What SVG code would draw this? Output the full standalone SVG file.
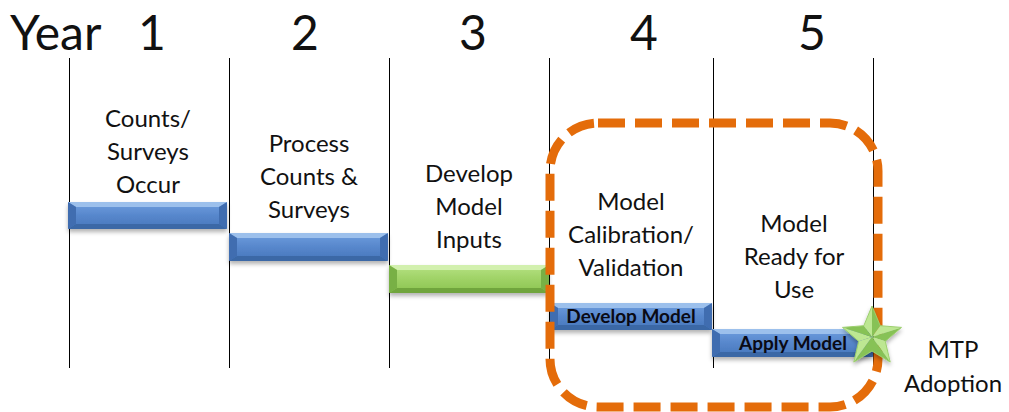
<svg xmlns="http://www.w3.org/2000/svg" width="1009" height="412" viewBox="0 0 1009 412">
  <style>
    .lbl { font-family: Lato, "Open Sans", "Liberation Sans", sans-serif; font-size: 24px; fill: #111; text-anchor: middle; }
    .yr { font-family: Lato, "Open Sans", "Liberation Sans", sans-serif; font-size: 48px; fill: #111; }
    .num { text-anchor: middle; }
    .bartxt { font-family: Lato, "Liberation Sans", sans-serif; font-size: 19px; font-weight: bold; fill: #0a0a14; text-anchor: middle; }
    .tick { stroke: #000; stroke-width: 1; }
    .b-face { fill: url(#blueFace); }
    .b-top { fill: #9cc0ec; }
    .b-bot { fill: #3a67a6; }
    .b-side { fill: #3f6db0; }
    .g-face { fill: url(#greenFace); }
    .g-top { fill: #d2f0ae; }
    .g-bot { fill: #6fa53c; }
    .g-side { fill: #78b044; }
    .frame { fill: none; stroke: #e46c0a; stroke-width: 9; stroke-dasharray: 27 10; }
    .s-lt { fill: #bde792; }
    .s-dk { fill: #87c257; }
  </style>
  <defs>
    <linearGradient id="blueFace" x1="0" y1="0" x2="0" y2="1">
      <stop offset="0" stop-color="#6f9edf"/>
      <stop offset="0.5" stop-color="#5787cc"/>
      <stop offset="1" stop-color="#4676bb"/>
    </linearGradient>
    <linearGradient id="greenFace" x1="0" y1="0" x2="0" y2="1">
      <stop offset="0" stop-color="#b6e283"/>
      <stop offset="0.5" stop-color="#9fd266"/>
      <stop offset="1" stop-color="#8bc450"/>
    </linearGradient>
    <filter id="shadow" x="-5%" y="-20%" width="110%" height="160%">
      <feDropShadow dx="0" dy="3" stdDeviation="2" flood-color="#000" flood-opacity="0.3"/>
    </filter>
  </defs>

  <!-- year header -->
  <g id="header">
    <text class="yr" x="10" y="50">Year</text>
    <text class="yr num" x="152" y="50">1</text>
    <text class="yr num" x="305" y="50">2</text>
    <text class="yr num" x="473" y="50">3</text>
    <text class="yr num" x="644" y="50">4</text>
    <text class="yr num" x="812" y="50">5</text>
  </g>

  <!-- year dividers -->
  <g id="dividers">
    <line class="tick" x1="69.5" y1="58" x2="69.5" y2="368"/>
    <line class="tick" x1="229.5" y1="58" x2="229.5" y2="368"/>
    <line class="tick" x1="389.5" y1="58" x2="389.5" y2="368"/>
    <line class="tick" x1="549.5" y1="58" x2="549.5" y2="368"/>
    <line class="tick" x1="713.5" y1="58" x2="713.5" y2="368"/>
    <line class="tick" x1="873.5" y1="58" x2="873.5" y2="368"/>
  </g>

  <!-- phase labels -->
  <g id="label-1">
    <text class="lbl" x="148" y="127">Counts/</text>
    <text class="lbl" x="148" y="160">Surveys</text>
    <text class="lbl" x="148" y="193">Occur</text>
  </g>
  <g id="label-2">
    <text class="lbl" x="309" y="152">Process</text>
    <text class="lbl" x="309" y="185">Counts &amp;</text>
    <text class="lbl" x="309" y="218">Surveys</text>
  </g>
  <g id="label-3">
    <text class="lbl" x="469" y="182">Develop</text>
    <text class="lbl" x="469" y="215">Model</text>
    <text class="lbl" x="469" y="248">Inputs</text>
  </g>
  <g id="label-4">
    <text class="lbl" x="631" y="210">Model</text>
    <text class="lbl" x="631" y="243">Calibration/</text>
    <text class="lbl" x="631" y="276">Validation</text>
  </g>
  <g id="label-5">
    <text class="lbl" x="794" y="232">Model</text>
    <text class="lbl" x="794" y="265">Ready for</text>
    <text class="lbl" x="794" y="298">Use</text>
  </g>
  <g id="label-mtp">
    <text class="lbl" x="953" y="358">MTP</text>
    <text class="lbl" x="953" y="392">Adoption</text>
  </g>

  <!-- bevelled timeline bars -->
  <g id="bar-1" filter="url(#shadow)">
    <rect class="b-face" x="68" y="202" width="159" height="27" rx="2"/>
    <polygon class="b-top" points="68,202 227,202 219,207 76,207"/>
    <polygon class="b-bot" points="68,229 227,229 219,224 76,224"/>
    <polygon class="b-side" points="68,202 76,207 76,224 68,229"/>
    <polygon class="b-side" points="227,202 219,207 219,224 227,229"/>
  </g>
  <g id="bar-2" filter="url(#shadow)">
    <rect class="b-face" x="229" y="233" width="159" height="28" rx="2"/>
    <polygon class="b-top" points="229,233 388,233 380,238 237,238"/>
    <polygon class="b-bot" points="229,261 388,261 380,256 237,256"/>
    <polygon class="b-side" points="229,233 237,238 237,256 229,261"/>
    <polygon class="b-side" points="388,233 380,238 380,256 388,261"/>
  </g>
  <g id="bar-3" filter="url(#shadow)">
    <rect class="g-face" x="389" y="265" width="160" height="28" rx="2"/>
    <polygon class="g-top" points="389,265 549,265 541,270 397,270"/>
    <polygon class="g-bot" points="389,293 549,293 541,288 397,288"/>
    <polygon class="g-side" points="389,265 397,270 397,288 389,293"/>
    <polygon class="g-side" points="549,265 541,270 541,288 549,293"/>
  </g>
  <g id="bar-4">
    <g filter="url(#shadow)">
      <rect class="b-face" x="550" y="303" width="162" height="27" rx="2"/>
      <polygon class="b-top" points="550,303 712,303 704,308 558,308"/>
      <polygon class="b-bot" points="550,330 712,330 704,325 558,325"/>
      <polygon class="b-side" points="550,303 558,308 558,325 550,330"/>
      <polygon class="b-side" points="712,303 704,308 704,325 712,330"/>
    </g>
    <text class="bartxt" x="631" y="323">Develop Model</text>
  </g>
  <g id="bar-5">
    <g filter="url(#shadow)">
      <rect class="b-face" x="712" y="329" width="161" height="28" rx="2"/>
      <polygon class="b-top" points="712,329 873,329 865,334 720,334"/>
      <polygon class="b-bot" points="712,357 873,357 865,352 720,352"/>
      <polygon class="b-side" points="712,329 720,334 720,352 712,357"/>
      <polygon class="b-side" points="873,329 865,334 865,352 873,357"/>
    </g>
    <text class="bartxt" x="793" y="350">Apply Model</text>
  </g>

  <!-- modelling phase frame -->
  <g id="model-frame">
    <rect class="frame" x="550" y="123" width="328" height="284" rx="48" ry="48"/>
  </g>

  <!-- adoption milestone star -->
  <g id="milestone-star" filter="url(#shadow)">
    <polygon class="s-lt" points="872,337 872,306 863.8,325.7"/>
    <polygon class="s-dk" points="872,337 872,306 880.2,325.7"/>
    <polygon class="s-lt" points="872,337 880.2,325.7 901.5,327.4"/>
    <polygon class="s-dk" points="872,337 901.5,327.4 885.3,341.3"/>
    <polygon class="s-lt" points="872,337 885.3,341.3 890.2,362.1"/>
    <polygon class="s-dk" points="872,337 890.2,362.1 872,351"/>
    <polygon class="s-dk" points="872,337 872,351 853.8,362.1"/>
    <polygon class="s-lt" points="872,337 853.8,362.1 858.7,341.3"/>
    <polygon class="s-lt" points="872,337 858.7,341.3 842.5,327.4"/>
    <polygon class="s-dk" points="872,337 842.5,327.4 863.8,325.7"/>
    <polygon points="872,306 880.2,325.7 901.5,327.4 885.3,341.3 890.2,362.1 872,351 853.8,362.1 858.7,341.3 842.5,327.4 863.8,325.7" fill="none" stroke="#9ccf6e" stroke-width="1"/>
  </g>
</svg>
